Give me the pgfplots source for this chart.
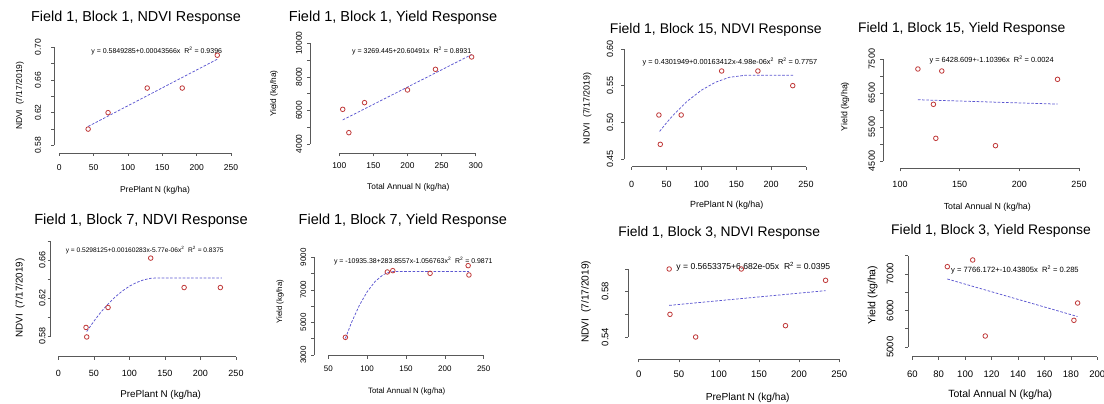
\documentclass[border=0pt]{standalone}
\usepackage{pgfplots}
\pgfplotsset{compat=1.18}
\usepackage{fontspec}
\setmainfont{Liberation Sans}
\definecolor{ptcol}{rgb}{0.75,0.22,0.22}
\definecolor{lncol}{rgb}{0.36,0.34,0.82}
\definecolor{axc}{rgb}{0.35,0.35,0.35}
\newcommand\fs[1]{\fontsize{#1}{#1}\selectfont}
\pgfplotsset{
  rpanel/.style={
    scale only axis, anchor=south west,
    axis lines=left, axis line style={-, draw=axc, line width=0.6pt},
    tick align=outside, major tick length=3pt,
    tick style={draw=axc, line width=0.6pt},
    clip=false, scaled ticks=false,
    xticklabel style={anchor=center},
    yticklabel style={rotate=90, anchor=center},
  },
  pts/.style={only marks, color=ptcol, mark=o, mark size=2.3pt, mark options={solid, line width=0.8pt}},
  fit/.style={no marks, color=lncol, line width=0.75pt, dash pattern=on 2.6pt off 1.6pt},
  ttl/.style n args={3}{every axis title/.style={at={(axis description cs:0,1)}, anchor=center, xshift=#1pt, yshift=#2pt, font=\fs{#3}}},
  xlab/.style n args={3}{every axis x label/.style={at={(axis description cs:0,0)}, anchor=center, xshift=#1pt, yshift=#2pt, font=\fs{#3}}},
  ylab/.style n args={3}{every axis y label/.style={at={(axis description cs:0,0)}, anchor=center, xshift=#1pt, yshift=#2pt, rotate=90, font=\fs{#3}}},
}
\begin{document}
\begin{tikzpicture}
\useasboundingbox (0,0) rectangle (1104pt,404pt);

% Panel 1
\begin{axis}[rpanel, at={(59.3pt,258.5pt)}, width=171.7pt, height=98.5pt,
  xmin=0, xmax=250, ymin=0.58, ymax=0.70,
  xtick={0,50,100,150,200,250}, xticklabels={0,50,100,150,200,250},
  ytick={0.58,0.60,0.62,0.64,0.66,0.68,0.70}, yticklabels={0.58,,0.62,,0.66,,0.70},
  axis x line shift=7.5pt, axis y line shift=5pt,
  xticklabel shift=11.7pt, yticklabel shift=13.3pt,
  ticklabel style={font=\fs{8.5}},
  title={Field 1, Block 1, NDVI Response}, ttl={76.7}{29.5}{14.4},
  xlabel={PrePlant N (kg/ha)}, xlab={95.7}{-45}{8.5},
  ylabel={NDVI\ \ (7/17/2019)}, ylab={-39.3}{49.8}{8.5},
]
\addplot[fit] coordinates {(42,0.6032) (230,0.6851)};
\addplot[pts] coordinates {(42,0.600) (71,0.620) (128,0.650) (179,0.650) (230,0.690)};
\node[font=\fs{7}] at (axis cs:141.8,0.6951) {y = 0.5849285+0.00043566x\ \ R\textsuperscript{2} = 0.9396};
\end{axis}

% Panel 2
\begin{axis}[rpanel, at={(339.3pt,260pt)}, width=136.4pt, height=100.7pt,
  xmin=100, xmax=300, ymin=4000, ymax=10000,
  xtick={100,150,200,250,300}, xticklabels={100,150,200,250,300},
  ytick={4000,5000,6000,7000,8000,9000,10000}, yticklabels={4000,,6000,,8000,,10000},
  axis x line shift=9.3pt, axis y line shift=29.3pt,
  xticklabel shift=9.4pt, yticklabel shift=8pt,
  ticklabel style={font=\fs{8.4}},
  title={Field 1, Block 1, Yield Response}, ttl={53.7}{26}{14.5},
  xlabel={Total Annual N (kg/ha)}, xlab={69}{-43.7}{8.3},
  ylabel={Yield (kg/ha)}, ylab={-65.3}{50.3}{8.3},
]
\addplot[fit] coordinates {(105,5433) (294,9327)};
\addplot[pts] coordinates {(105,6066) (114,4675) (137,6464) (200,7219) (241,8450) (294,9185)};
\node[font=\fs{7}] at (axis cs:206.2,9559) {y = 3269.445+20.60491x\ \ R\textsuperscript{2} = 0.8931};
\end{axis}

% Panel 3
\begin{axis}[rpanel, at={(58.3pt,68pt)}, width=177.7pt, height=95pt,
  xmin=0, xmax=250, ymin=0.58, ymax=0.68,
  xtick={0,50,100,150,200,250}, xticklabels={0,50,100,150,200,250},
  ytick={0.58,0.60,0.62,0.64,0.66,0.68}, yticklabels={0.58,,0.62,,0.66,},
  axis x line shift=20.7pt, axis y line shift=7.6pt,
  xticklabel shift=13.6pt, yticklabel shift=5.5pt,
  ticklabel style={font=\fs{9}},
  title={Field 1, Block 7, NDVI Response}, ttl={82.7}{20.3}{14.66},
  xlabel={PrePlant N (kg/ha)}, xlab={102.4}{-59}{9.8},
  ylabel={NDVI\ \ (7/17/2019)}, ylab={-38.3}{38}{9.8},
]
\addplot[fit] coordinates {(40,0.5847) (50,0.5955) (60,0.6052) (70,0.6137) (80,0.6211) (90,0.6273) (100,0.6324) (110,0.6363) (120,0.6391) (130,0.6407) (139,0.6411) (230,0.6411)};
\addplot[pts] coordinates {(39,0.589) (40,0.579) (70,0.610) (130,0.662) (177,0.631) (228,0.631)};
\node[font=\fs{6.6}] at (axis cs:121.6,0.6705) {y = 0.5298125+0.00160283x-5.77e-06x\textsuperscript{2}\ \ R\textsuperscript{2} = 0.8375};
\end{axis}

% Panel 4
\begin{axis}[rpanel, at={(328.3pt,49pt)}, width=155.4pt, height=97.7pt,
  xmin=50, xmax=250, ymin=3000, ymax=9000,
  xtick={50,100,150,200,250}, xticklabels={50,100,150,200,250},
  ytick={3000,4000,5000,6000,7000,8000,9000}, yticklabels={3000,,5000,,7000,,9000},
  axis x line shift=0.7pt, axis y line shift=14pt,
  xticklabel shift=10.3pt, yticklabel shift=8pt,
  ticklabel style={font=\fs{8}},
  title={Field 1, Block 7, Yield Response}, ttl={74.5}{36.6}{14.5},
  xlabel={Total Annual N (kg/ha)}, xlab={78.4}{-36}{7.8},
  ylabel={Yield (kg/ha)}, ylab={-48.3}{53.3}{7.8},
]
\addplot[fit] coordinates {(72,4024) (80,5010) (90,6052) (100,6883) (110,7502) (120,7910) (127,8070) (134,8126) (231,8126)};
\addplot[pts] coordinates {(72,4085) (126,8099) (133,8181) (181,8017) (230,8488) (231,7915)};
\node[font=\fs{6.95}] at (axis cs:159.4,8773) {y = -10935.38+283.8557x-1.056763x\textsuperscript{2}\ \ R\textsuperscript{2} = 0.9871};
\end{axis}

% Panel 5
\begin{axis}[rpanel, at={(631.7pt,245pt)}, width=174.3pt, height=110pt,
  xmin=0, xmax=250, ymin=0.45, ymax=0.60,
  xtick={0,50,100,150,200,250}, xticklabels={0,50,100,150,200,250},
  ytick={0.45,0.50,0.55,0.60}, yticklabels={0.45,0.50,0.55,0.60},
  axis x line shift=7.7pt, axis y line shift=7.7pt,
  xticklabel shift=14.6pt, yticklabel shift=11pt,
  ticklabel style={font=\fs{9}},
  title={Field 1, Block 15, NDVI Response}, ttl={84.1}{19}{14.0},
  xlabel={PrePlant N (kg/ha)}, xlab={95}{-46}{8.9},
  ylabel={NDVI\ \ (7/17/2019)}, ylab={-44.4}{50.7}{8.9},
]
\addplot[fit] coordinates {(40,0.4876) (50,0.4994) (60,0.5103) (80,0.5291) (100,0.5438) (120,0.5546) (140,0.5614) (164,0.5643) (232,0.5643)};
\addplot[pts] coordinates {(39,0.510) (41,0.470) (71,0.510) (129,0.570) (181,0.570) (231,0.550)};
\node[font=\fs{7.3}] at (axis cs:141,0.5827) {y = 0.4301949+0.00163412x-4.98e-06x\textsuperscript{2}\ \ R\textsuperscript{2} = 0.7757};
\end{axis}

% Panel 6
\begin{axis}[rpanel, at={(900pt,243pt)}, width=179pt, height=102pt,
  xmin=100, xmax=250, ymin=4500, ymax=7500,
  xtick={100,150,200,250}, xticklabels={100,150,200,250},
  ytick={4500,5000,5500,6000,6500,7000,7500}, yticklabels={4500,,5500,,6500,,7500},
  axis x line shift=7.3pt, axis y line shift=16.7pt,
  xticklabel shift=13pt, yticklabel shift=8.6pt,
  ticklabel style={font=\fs{9}},
  title={Field 1, Block 15, Yield Response}, ttl={61.7}{29.7}{13.9},
  xlabel={Total Annual N (kg/ha)}, xlab={87.3}{-46.3}{8.8},
  ylabel={Yield (kg/ha)}, ylab={-55}{54.3}{8.8},
]
\addplot[fit] coordinates {(115,6302) (232,6173)};
\addplot[pts] coordinates {(115,7206) (135,7147) (232,6902) (128,6167) (130,5167) (180,4951)};
\node[font=\fs{7.4}] at (axis cs:176.8,7471) {y = 6428.609+-1.10396x\ \ R\textsuperscript{2} = 0.0024};
\end{axis}

% Panel 7
\begin{axis}[rpanel, at={(638.7pt,67pt)}, width=200.5pt, height=68pt,
  xmin=0, xmax=250, ymin=0.54, ymax=0.60,
  xtick={0,50,100,150,200,250}, xticklabels={0,50,100,150,200,250},
  ytick={0.54,0.56,0.58,0.60}, yticklabels={0.54,,0.58,},
  axis x line shift=22.3pt, axis y line shift=10.4pt,
  xticklabel shift=11.7pt, yticklabel shift=20.3pt,
  ticklabel style={font=\fs{9.5}},
  title={Field 1, Block 3, NDVI Response}, ttl={80.5}{36.3}{13.85},
  xlabel={PrePlant N (kg/ha)}, xlab={109}{-61.3}{10.2},
  ylabel={NDVI\ \ (7/17/2019)}, ylab={-52.7}{35.3}{10.2},
]
\addplot[fit] coordinates {(38,0.5679) (233,0.5809)};
\addplot[pts] coordinates {(38,0.600) (39,0.560) (71,0.540) (128,0.600) (183,0.550) (233,0.590)};
\node[font=\fs{8.6}] at (axis cs:142.9,0.6020) {y = 0.5653375+6.682e-05x\ \ R\textsuperscript{2} = 0.0395};
\end{axis}

% Panel 8
\begin{axis}[rpanel, at={(912.3pt,57pt)}, width=185pt, height=91.25pt,
  xmin=60, xmax=200, ymin=5000, ymax=7500,
  xtick={60,80,100,120,140,160,180,200}, xticklabels={60,80,100,120,140,160,180,200},
  ytick={5000,5500,6000,6500,7000,7500}, yticklabels={5000,,6000,,7000,},
  axis x line shift=9.7pt, axis y line shift=4pt,
  xticklabel shift=14.6pt, yticklabel shift=15.3pt,
  ticklabel style={font=\fs{9.5}},
  title={Field 1, Block 3, Yield Response}, ttl={78.7}{25}{13.9},
  xlabel={Total Annual N (kg/ha)}, xlab={88}{-47.3}{10.5},
  ylabel={Yield (kg/ha)}, ylab={-39.6}{52}{10.5},
]
\addplot[fit] coordinates {(86.5,6863) (185,5835)};
\addplot[pts] coordinates {(86.5,7201) (105.7,7384) (115.2,5301) (182.3,5731) (185.1,6205)};
\node[font=\fs{7.6}] at (axis cs:137.7,7111) {y = 7766.172+-10.43805x\ \ R\textsuperscript{2} = 0.285};
\end{axis}
\end{tikzpicture}
\end{document}
